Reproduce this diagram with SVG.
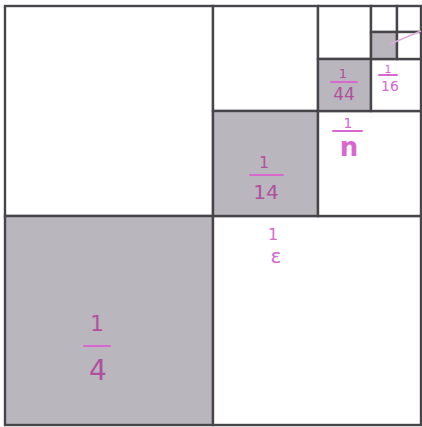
<svg xmlns="http://www.w3.org/2000/svg" width="422" height="427" viewBox="0 0 422 427">
<style>
.sq{stroke:#48454a;stroke-width:2.4;fill:#ffffff}
.sh{fill:#b9b6bd}
.lb{fill:#d868d0;font-family:"DejaVu Sans",sans-serif;text-anchor:middle}
.bar{stroke:#d868d0;stroke-width:2;stroke-linecap:round}
.dk{fill:#b0509e}
</style>
<rect x="0" y="0" width="422" height="427" fill="#ffffff"/>
<g id="sq-tl"><rect class="sq" x="5" y="6" width="208" height="210"/></g>
<g id="sq-bl"><rect class="sq sh" x="5" y="216" width="208" height="209"/>
<text class="lb dk" x="97" y="331" font-size="22">1</text>
<line class="bar" x1="84" y1="346" x2="110" y2="346"/>
<text class="lb dk" x="98" y="380" font-size="28">4</text></g>
<g id="sq-br"><rect class="sq" x="213" y="216" width="208" height="209"/>
<text class="lb" x="273" y="240" font-size="16">1</text>
<text class="lb" x="276" y="263" font-size="20">ε</text></g>
<g id="sq-2tl"><rect class="sq" x="213" y="6" width="105" height="105"/></g>
<g id="sq-2bl"><rect class="sq sh" x="213" y="111" width="105" height="105"/>
<text class="lb dk" x="264" y="168" font-size="16">1</text>
<line class="bar" x1="250" y1="175" x2="283" y2="175"/>
<text class="lb dk" x="266" y="199" font-size="20">14</text></g>
<g id="sq-2br"><rect class="sq" x="318" y="111" width="103" height="105"/>
<text class="lb" x="348" y="128" font-size="14">1</text>
<line class="bar" x1="333" y1="131" x2="362" y2="131" stroke-width="3"/>
<text class="lb" x="349" y="156" font-size="26" font-weight="bold">n</text></g>
<g id="sq-3tl"><rect class="sq" x="318" y="6" width="53" height="53"/></g>
<g id="sq-3bl"><rect class="sq sh" x="318" y="59" width="53" height="52"/>
<text class="lb dk" x="343" y="78" font-size="13">1</text>
<line class="bar" x1="331" y1="82" x2="357" y2="82"/>
<text class="lb dk" x="344" y="100" font-size="17">44</text></g>
<g id="sq-3br"><rect class="sq" x="371" y="59" width="50" height="52"/>
<text class="lb" x="388" y="73" font-size="11">1</text>
<line class="bar" x1="379" y1="75" x2="397" y2="75" stroke-width="1.6"/>
<text class="lb" x="390" y="91" font-size="14">16</text></g>
<g id="sq-4tl"><rect class="sq" x="371" y="6" width="26" height="26"/></g>
<g id="sq-4tr"><rect class="sq" x="397" y="6" width="24" height="26"/></g>
<g id="sq-4bl"><rect class="sq sh" x="371" y="32" width="26" height="27"/></g>
<g id="sq-4br"><rect class="sq" x="397" y="32" width="24" height="27"/></g>
<g id="connectors"><line x1="390" y1="44" x2="421" y2="31" stroke="#e0a8dc" stroke-width="1.5"/></g>
</svg>
